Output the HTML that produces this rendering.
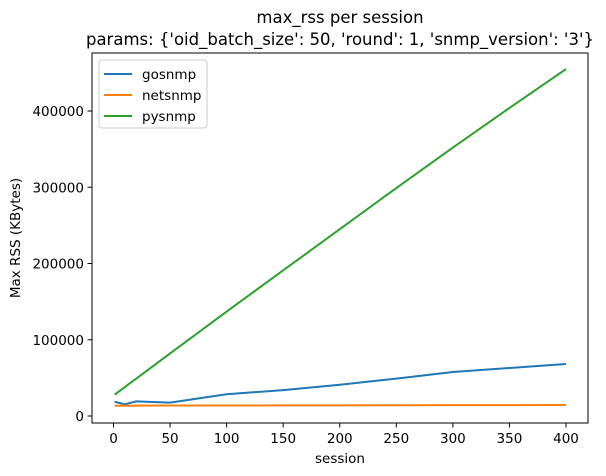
<!DOCTYPE html>
<html><head><meta charset="utf-8"><style>
body{margin:0;background:#fff;}
svg{display:block;font-family:"DejaVu Sans","Liberation Sans",sans-serif;}
</style></head><body>
<svg id="chart" width="606" height="476">
<text x="340" y="23" text-anchor="middle" font-size="16.5">max_rss per session</text>
<text x="340" y="45" text-anchor="middle" font-size="16.5">params: {'oid_batch_size': 50, 'round': 1, 'snmp_version': '3'}</text>
<g id="grid"></g>
<g id="series"></g>
<rect x="92" y="53" width="496" height="370" fill="none" stroke="#000" stroke-width="1"/>
<text x="340" y="463" text-anchor="middle" font-size="13.5">session</text>
<text transform="translate(20,238) rotate(-90)" text-anchor="middle" font-size="13.5">Max RSS (KBytes)</text>
<g>
<rect x="99" y="60" width="108" height="68" rx="3" fill="#fff" stroke="#ccc"/>
<line x1="104" y1="74" x2="132" y2="74" stroke="#1f77b4" stroke-width="2"/>
<text x="142" y="79" font-size="13.5">gosnmp</text>
<line x1="104" y1="95" x2="132" y2="95" stroke="#ff7f0e" stroke-width="2"/>
<text x="142" y="100" font-size="13.5">netsnmp</text>
<line x1="104" y1="116" x2="132" y2="116" stroke="#2ca02c" stroke-width="2"/>
<text x="142" y="121" font-size="13.5">pysnmp</text>
</g>
</svg>
<script>
const sessions = [1,10,20,50,100,150,200,250,300,350,400];
const gosnmp = [18700,15300,19200,17500,28500,34000,41000,49000,57700,63000,68200];
const netsnmp = [13500,13500,13600,13700,13800,13900,14000,14100,14200,14300,14400];
const pysnmp = [28000,38000,49000,82000,137000,191000,245000,299000,352000,404000,455000];
const xTicks = [0,50,100,150,200,250,300,350,400];
const yTicks = [0,100000,200000,300000,400000];

const NS="http://www.w3.org/2000/svg";
function xs(v){return 113.5+v*(452.5/400);}
function ys(v){return 416-v*(305/400000);}
const grid=document.getElementById('grid');
const ser=document.getElementById('series');
xTicks.forEach(t=>{
  const l=document.createElementNS(NS,'line');
  l.setAttribute('x1',xs(t));l.setAttribute('x2',xs(t));l.setAttribute('y1',423);l.setAttribute('y2',427.5);l.setAttribute('stroke','#000');
  
  
  grid.appendChild(l);
  const tx=document.createElementNS(NS,'text');
  tx.setAttribute('x',xs(t));tx.setAttribute('y',443);tx.setAttribute('text-anchor','middle');tx.setAttribute('font-size','13.5');
  tx.textContent=t;
  
  
  grid.appendChild(tx);
});
yTicks.forEach(t=>{
  const l=document.createElementNS(NS,'line');
  l.setAttribute('x1',87.5);l.setAttribute('x2',92);l.setAttribute('y1',ys(t));l.setAttribute('y2',ys(t));l.setAttribute('stroke','#000');
  
  
  grid.appendChild(l);
  const tx=document.createElementNS(NS,'text');
  tx.setAttribute('x',84);tx.setAttribute('y',ys(t)+5);tx.setAttribute('text-anchor','end');tx.setAttribute('font-size','13.5');
  tx.textContent=t;
  
  
  grid.appendChild(tx);
});
function line(vals,color,name){
  const p=document.createElementNS(NS,'polyline');
  p.setAttribute('points',sessions.map((s,i)=>xs(s)+','+ys(vals[i])).join(' '));
  p.setAttribute('fill','none');p.setAttribute('stroke',color);p.setAttribute('stroke-width','2');
  
  
  ser.appendChild(p);
}
line(gosnmp,'#1f77b4','gosnmp-line');
line(netsnmp,'#ff7f0e','netsnmp-line');
line(pysnmp,'#2ca02c','pysnmp-line');
</script>
</body></html>
